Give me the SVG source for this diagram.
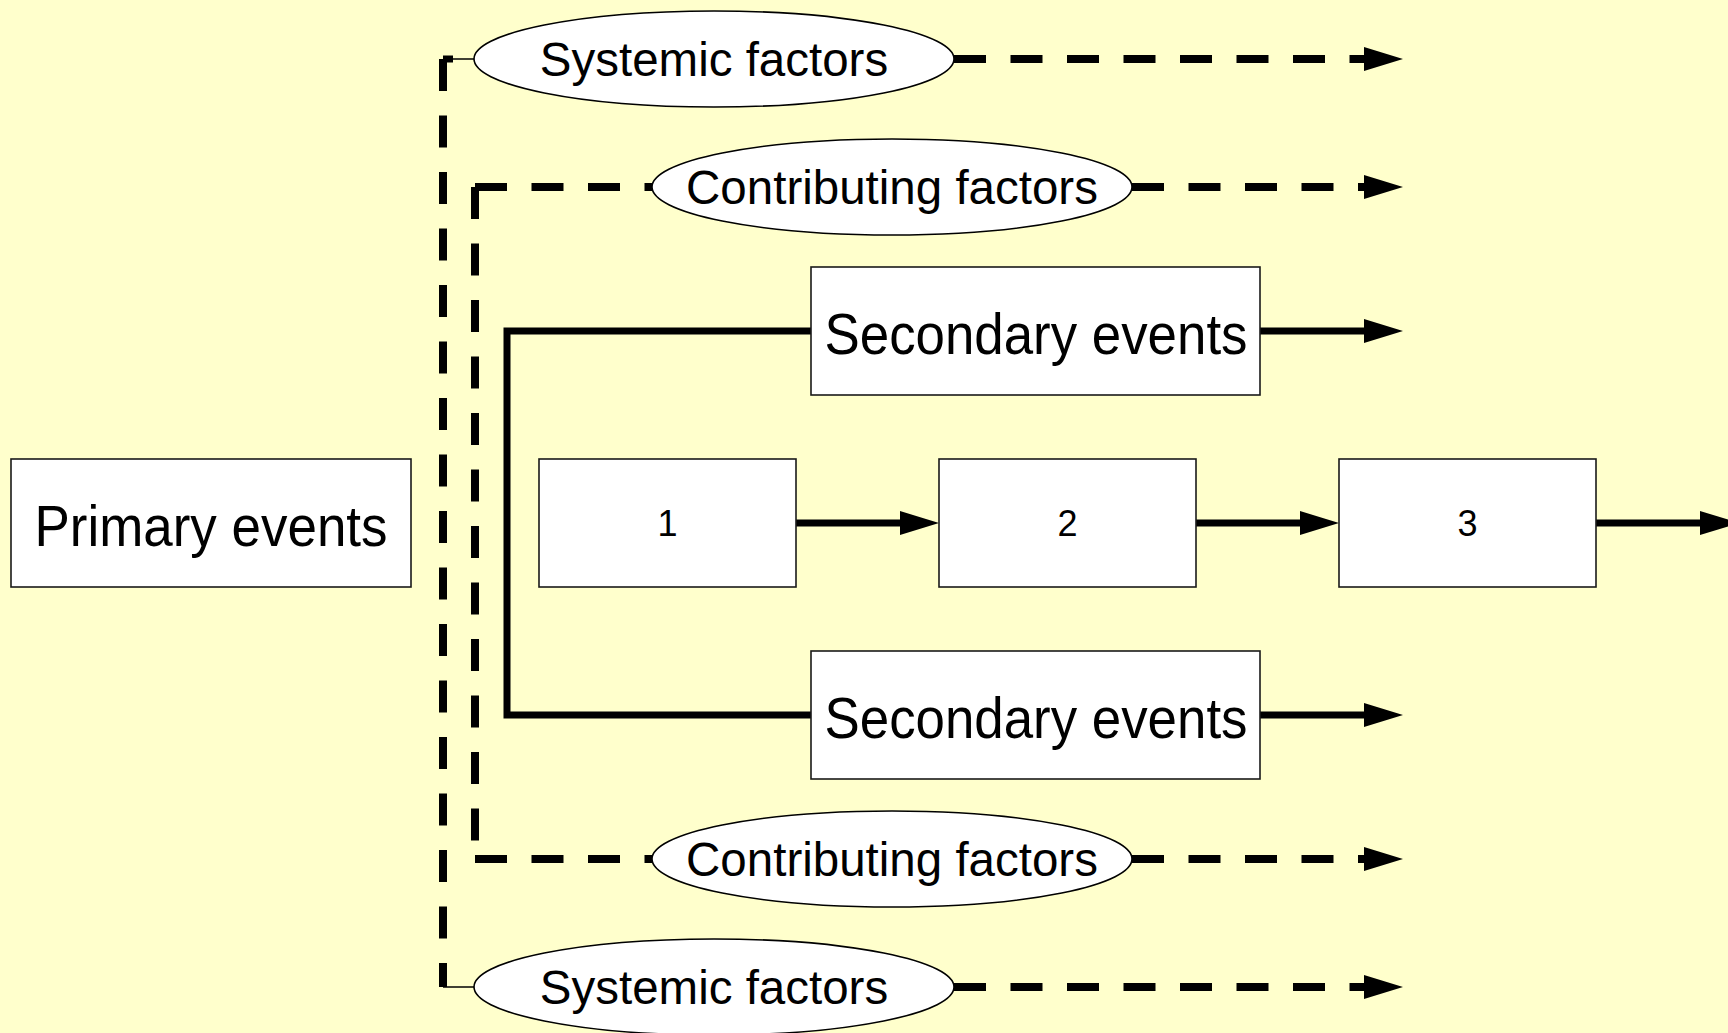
<svg xmlns="http://www.w3.org/2000/svg" width="1728" height="1033" viewBox="0 0 1728 1033">
  <defs>
    <style>
      .box { fill: #ffffff; stroke: #1a1a1a; stroke-width: 1.6; }
      .oval { fill: #ffffff; stroke: #000000; stroke-width: 1.6; }
      .lbl { font-family: "Liberation Sans", Arial, sans-serif; fill: #000000; text-anchor: middle; }
      .big { font-size: 57px; }
      .mid { font-size: 47.5px; }
      .num { font-size: 36px; }
      .solid { fill: none; stroke: #000000; stroke-width: 7; stroke-linejoin: miter; }
      .dash { fill: none; stroke: #000000; stroke-width: 8; stroke-dasharray: 32 24.5; }
      .thin { fill: none; stroke: #000000; stroke-width: 1.6; }
    </style>
    <marker id="head" markerUnits="userSpaceOnUse" markerWidth="40" markerHeight="26" refX="0" refY="12" orient="auto" overflow="visible">
      <path d="M0,0 L39,12 L0,24 Z" fill="#000000"/>
    </marker>
  </defs>

  <rect x="0" y="0" width="1728" height="1033" fill="#ffffcc"/>

  <!-- connectors -->
  <g id="connectors">
    <!-- outer systemic bracket -->
    <path class="thin" d="M443 59 H476"/>
    <path class="thin" d="M443 987 H476"/>
    <path class="solid" d="M453 59 H443" stroke-width="8"/>
    <path class="dash" d="M443 59 V987"/>
    <!-- inner contributing bracket -->
    <path class="dash" d="M475 187 H652"/>
    <path class="dash" d="M475 187 V859"/>
    <path class="dash" d="M475 859 H652"/>
    <!-- secondary events bracket -->
    <path class="solid" d="M811 331 H507 V715 H811"/>
    <!-- outgoing dashed arrows -->
    <path class="dash" d="M954 59 H1364" marker-end="url(#head)"/>
    <path class="dash" d="M1132 187 H1364" marker-end="url(#head)"/>
    <path class="dash" d="M1132 859 H1364" marker-end="url(#head)"/>
    <path class="dash" d="M954 987 H1364" marker-end="url(#head)"/>
    <!-- outgoing solid arrows -->
    <path class="solid" d="M1260 331 H1364" marker-end="url(#head)"/>
    <path class="solid" d="M1260 715 H1364" marker-end="url(#head)"/>
    <!-- chain 1 → 2 → 3 → -->
    <path class="solid" d="M796 523 H900" marker-end="url(#head)"/>
    <path class="solid" d="M1196 523 H1300" marker-end="url(#head)"/>
    <path class="solid" d="M1596 523 H1700" marker-end="url(#head)"/>
  </g>

  <g id="primary">
    <rect class="box" x="11" y="459" width="400" height="128"/>
    <text class="lbl big" x="211" y="546" textLength="353" lengthAdjust="spacingAndGlyphs">Primary events</text>
  </g>

  <g id="systemic-top">
    <ellipse class="oval" cx="714" cy="59" rx="240" ry="48"/>
    <text class="lbl mid" x="714" y="75.5">Systemic factors</text>
  </g>

  <g id="contributing-top">
    <ellipse class="oval" cx="892" cy="187" rx="240" ry="48"/>
    <text class="lbl mid" x="892" y="203.5">Contributing factors</text>
  </g>

  <g id="secondary-top">
    <rect class="box" x="811" y="267" width="449" height="128"/>
    <text class="lbl big" x="1036" y="354" textLength="423" lengthAdjust="spacingAndGlyphs">Secondary events</text>
  </g>

  <g id="step-1">
    <rect class="box" x="539" y="459" width="257" height="128"/>
    <text class="lbl num" x="667.5" y="536">1</text>
  </g>

  <g id="step-2">
    <rect class="box" x="939" y="459" width="257" height="128"/>
    <text class="lbl num" x="1067.5" y="536">2</text>
  </g>

  <g id="step-3">
    <rect class="box" x="1339" y="459" width="257" height="128"/>
    <text class="lbl num" x="1467.5" y="536">3</text>
  </g>

  <g id="secondary-bottom">
    <rect class="box" x="811" y="651" width="449" height="128"/>
    <text class="lbl big" x="1036" y="738" textLength="423" lengthAdjust="spacingAndGlyphs">Secondary events</text>
  </g>

  <g id="contributing-bottom">
    <ellipse class="oval" cx="892" cy="859" rx="240" ry="48"/>
    <text class="lbl mid" x="892" y="875.5">Contributing factors</text>
  </g>

  <g id="systemic-bottom">
    <ellipse class="oval" cx="714" cy="987" rx="240" ry="48"/>
    <text class="lbl mid" x="714" y="1003.5">Systemic factors</text>
  </g>
</svg>
